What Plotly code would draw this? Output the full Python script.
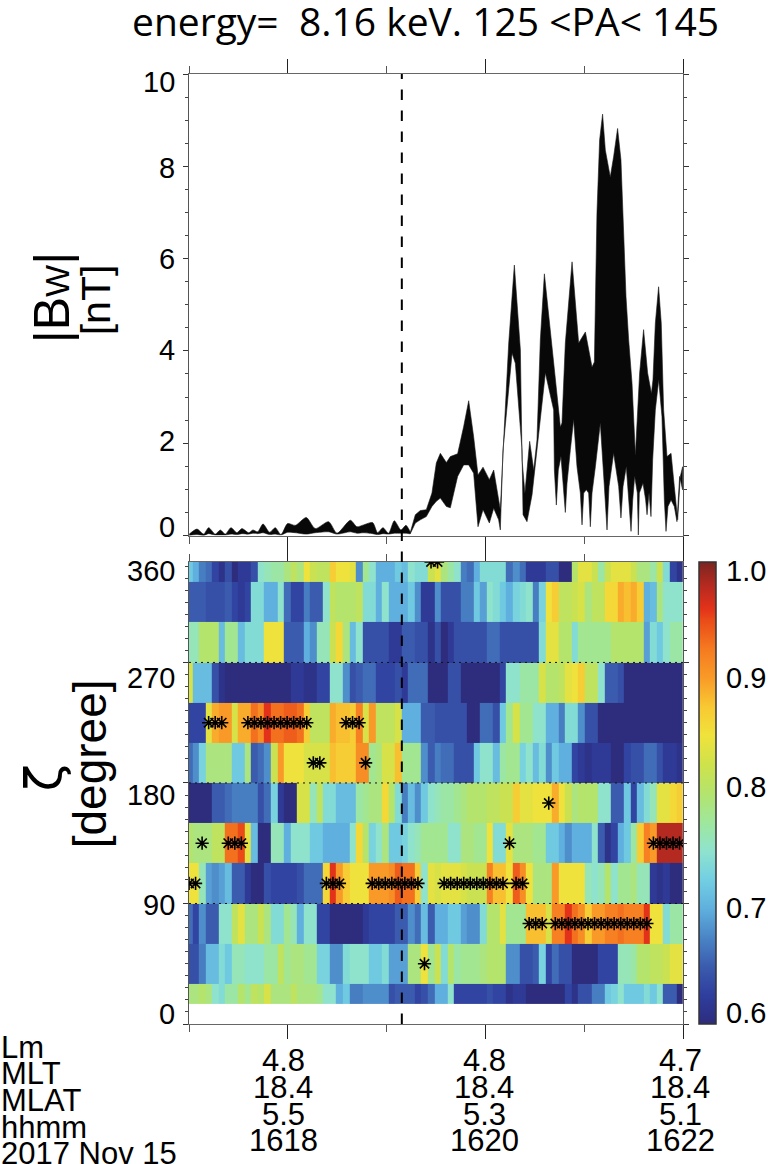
import plotly.graph_objects as go

# Wave amplitude envelope, quiet interval: time, |Bw| upper and lower edges
quiet_upper_t = [1617.003,1617.081,1617.148,1617.199,1617.266,1617.317,1617.367,1617.425,1617.485,1617.536,1617.604,1617.647,1617.695,1617.749,1617.816,1617.873,1617.931,1617.998,1618.076,1618.187,1618.278,1618.413,1618.498,1618.633,1618.700,1618.767,1618.859,1618.909,1618.963,1619.020,1619.078,1619.145,1619.196,1619.240]
quiet_upper_b = [0.03,0.14,0.03,0.17,0.03,0.12,0.03,0.17,0.06,0.15,0.06,0.12,0.08,0.25,0.07,0.17,0.02,0.26,0.22,0.39,0.15,0.30,0.05,0.33,0.19,0.23,0.28,0.06,0.17,0.05,0.32,0.12,0.22,0.07]
quiet_lower_t = [1617.003,1617.081,1617.148,1617.199,1617.266,1617.317,1617.367,1617.425,1617.485,1617.536,1617.604,1617.647,1617.695,1617.749,1617.816,1617.873,1617.931,1617.998,1618.076,1618.187,1618.278,1618.413,1618.498,1618.633,1618.700,1618.767,1618.859,1618.909,1618.963,1619.020,1619.078,1619.145,1619.196,1619.240]
quiet_lower_b = [0.00,0.02,0.00,0.04,0.01,0.01,0.01,0.03,0.02,0.04,0.03,0.05,0.04,0.06,0.02,0.03,0.01,0.07,0.06,0.03,0.06,0.08,0.03,0.08,0.05,0.06,0.04,0.02,0.04,0.03,0.05,0.05,0.05,0.04]

# Wave amplitude envelope, active interval
active_upper_t = [1619.240,1619.291,1619.341,1619.402,1619.459,1619.503,1619.544,1619.605,1619.645,1619.719,1619.780,1619.831,1619.881,1619.925,1619.976,1620.040,1620.084,1620.134,1620.151,1620.185,1620.236,1620.293,1620.354,1620.371,1620.400,1620.448,1620.489,1620.522,1620.556,1620.597,1620.674,1620.759,1620.775,1620.809,1620.877,1620.944,1621.012,1621.079,1621.103,1621.129,1621.156,1621.186,1621.214,1621.264,1621.298,1621.338,1621.372,1621.399,1621.423,1621.450,1621.484,1621.518,1621.561,1621.601,1621.642,1621.680,1621.696,1621.720,1621.753,1621.780,1621.804,1621.838,1621.879,1621.912,1621.946,1621.973,1621.996]
active_upper_b = [0.07,0.45,0.54,0.56,0.92,1.57,1.78,1.58,1.71,1.77,2.36,2.92,2.14,1.31,1.48,1.21,1.42,0.70,0.56,2.07,4.17,5.86,4.02,1.64,0.92,2.04,1.42,2.07,4.24,5.67,4.02,2.35,2.44,4.17,5.93,4.17,4.41,3.65,3.76,6.98,8.57,9.13,8.35,7.77,8.21,8.82,8.14,6.55,5.18,4.24,3.30,1.75,3.52,4.46,3.52,3.08,3.37,4.60,5.39,4.60,2.72,1.71,1.78,1.06,0.34,1.28,1.49]
active_lower_t = [1619.240,1619.291,1619.341,1619.402,1619.459,1619.503,1619.544,1619.605,1619.645,1619.719,1619.780,1619.831,1619.881,1619.925,1619.976,1620.040,1620.084,1620.134,1620.151,1620.178,1620.270,1620.303,1620.371,1620.381,1620.421,1620.472,1620.505,1620.520,1620.607,1620.691,1620.698,1620.718,1620.738,1620.765,1620.792,1620.809,1620.826,1620.860,1620.893,1620.927,1620.961,1620.978,1620.995,1621.022,1621.045,1621.062,1621.079,1621.113,1621.163,1621.204,1621.231,1621.251,1621.298,1621.349,1621.372,1621.393,1621.426,1621.454,1621.474,1621.491,1621.511,1621.538,1621.548,1621.558,1621.595,1621.622,1621.636,1621.656,1621.676,1621.693,1621.720,1621.754,1621.787,1621.811,1621.828,1621.848,1621.879,1621.912,1621.939,1621.966,1621.996]
active_lower_b = [0.04,0.27,0.34,0.41,0.63,0.74,0.81,0.63,0.60,1.28,1.53,1.53,1.35,0.19,0.56,0.27,0.59,0.34,0.12,1.85,3.95,3.73,1.85,0.45,0.30,0.88,1.42,1.85,3.52,2.72,1.42,0.66,1.42,1.71,1.06,0.50,1.13,1.86,2.51,1.49,0.92,0.23,0.92,0.99,0.92,0.19,0.92,1.49,2.43,1.06,0.12,1.06,1.78,1.06,0.38,1.06,1.49,0.77,0.09,0.77,1.28,0.92,0.01,0.92,1.13,0.77,0.45,0.92,0.41,1.64,2.72,3.37,2.58,0.77,0.09,0.63,0.77,0.63,0.30,1.28,0.99]

# Colour panel: one row per zeta bin, listed from the top bin downwards
zeta_edges = [15,30,60,90,120,150,180,210,240,270,300,330,360]
row_330 = [.72,.70,.67,.66,.63,.61,.64,.60,.62,.62,.64,.75,.76,.77,.77,.79,.81,.79,.85,.82,.81,.81,.87,.85,.85,.84,.68,.78,.75,.70,.70,.70,.72,.71,.75,.74,.74,.82,.84,.79,.77,.75,.67,.66,.70,.74,.74,.74,.74,.66,.68,.66,.62,.62,.62,.64,.64,.60,.60,.80,.84,.84,.82,.77,.82,.84,.84,.84,.82,.79,.79,.77,.82,.74,.63,.61]
row_300 = [.65,.65,.65,.64,.64,.64,.65,.63,.62,.63,.74,.74,.70,.70,.75,.66,.63,.63,.67,.65,.65,.75,.81,.80,.80,.80,.81,.74,.74,.70,.75,.70,.70,.70,.72,.68,.62,.62,.68,.64,.64,.64,.67,.67,.72,.69,.75,.74,.72,.70,.73,.74,.75,.67,.73,.85,.87,.81,.81,.82,.83,.79,.81,.81,.86,.86,.89,.88,.89,.87,.70,.71,.79,.75,.75,.75]
row_270 = [.76,.76,.80,.80,.80,.71,.78,.78,.71,.74,.74,.74,.85,.85,.85,.65,.65,.65,.70,.68,.76,.76,.82,.86,.79,.71,.75,.64,.64,.64,.64,.62,.62,.65,.65,.64,.64,.61,.64,.60,.62,.64,.64,.64,.64,.64,.66,.66,.64,.64,.64,.64,.64,.64,.74,.84,.84,.80,.80,.74,.78,.78,.78,.78,.78,.80,.80,.80,.80,.80,.69,.74,.72,.75,.77,.77]
row_240 = [.83,.71,.71,.71,.64,.61,.60,.60,.60,.60,.60,.60,.60,.60,.60,.60,.62,.62,.61,.61,.63,.63,.75,.75,.68,.64,.65,.66,.66,.63,.63,.63,.64,.62,.66,.66,.66,.60,.60,.60,.64,.64,.60,.60,.60,.60,.60,.60,.63,.75,.75,.77,.77,.77,.83,.80,.80,.81,.84,.85,.87,.81,.81,.75,.65,.65,.64,.60,.60,.60,.60,.60,.60,.60,.60,.60]
row_210 = [.63,.63,.63,.84,.89,.90,.90,.83,.89,.89,.93,.91,.96,.93,.93,.94,.94,.93,.87,.81,.81,.81,.89,.88,.88,.87,.92,.83,.90,.81,.81,.81,.83,.70,.70,.70,.65,.65,.64,.64,.64,.64,.64,.60,.60,.66,.66,.64,.72,.78,.83,.78,.78,.75,.75,.70,.70,.67,.74,.74,.68,.64,.64,.60,.60,.60,.60,.60,.60,.60,.60,.60,.60,.60,.60,.60]
row_180 = [.66,.68,.73,.79,.79,.79,.79,.72,.72,.79,.65,.66,.68,.82,.90,.85,.85,.85,.83,.83,.83,.83,.88,.87,.87,.87,.91,.91,.78,.79,.83,.83,.88,.78,.78,.78,.68,.65,.67,.66,.66,.64,.64,.64,.72,.75,.75,.71,.77,.78,.78,.73,.75,.71,.74,.68,.72,.70,.70,.63,.62,.61,.62,.62,.62,.60,.60,.63,.64,.64,.66,.66,.64,.62,.62,.61]
row_150 = [.60,.60,.60,.60,.65,.65,.66,.67,.67,.67,.67,.64,.66,.73,.62,.60,.60,.83,.83,.76,.81,.74,.74,.71,.71,.71,.77,.78,.79,.79,.86,.80,.74,.67,.71,.68,.72,.75,.76,.77,.77,.78,.79,.80,.80,.80,.81,.81,.82,.82,.87,.84,.84,.85,.85,.85,.89,.85,.82,.79,.80,.80,.80,.75,.75,.65,.65,.72,.63,.71,.74,.76,.84,.84,.86,.87]
row_120 = [.80,.79,.79,.79,.81,.81,.93,.93,.95,.84,.71,.60,.60,.76,.76,.70,.75,.75,.75,.72,.72,.70,.70,.70,.70,.75,.86,.80,.73,.75,.79,.72,.72,.73,.75,.76,.78,.78,.78,.78,.75,.75,.79,.79,.78,.78,.85,.74,.74,.84,.79,.79,.79,.78,.78,.72,.72,.70,.68,.70,.70,.70,.75,.65,.61,.63,.70,.72,.77,.87,.92,.90,.98,.98,.98,.98]
row_90 = [.85,.85,.76,.69,.68,.69,.71,.65,.65,.62,.60,.60,.64,.63,.63,.63,.63,.64,.66,.66,.66,.86,.96,.90,.87,.85,.85,.85,.90,.90,.90,.91,.94,.93,.93,.87,.75,.84,.83,.84,.84,.84,.83,.82,.82,.82,.92,.88,.88,.85,.94,.91,.85,.79,.79,.79,.90,.85,.85,.85,.85,.76,.75,.76,.80,.75,.78,.78,.79,.76,.76,.62,.61,.62,.60,.60]
row_60 = [.66,.63,.68,.65,.65,.75,.75,.81,.84,.79,.79,.82,.79,.74,.74,.78,.76,.70,.75,.75,.63,.63,.60,.60,.60,.60,.60,.62,.63,.63,.63,.63,.65,.65,.68,.66,.71,.65,.70,.70,.72,.72,.69,.68,.68,.74,.80,.80,.84,.78,.78,.78,.88,.88,.88,.83,.92,.92,.96,.93,.91,.87,.90,.90,.92,.92,.93,.92,.92,.92,.96,.85,.85,.74,.77,.77]
row_30 = [.64,.64,.67,.71,.71,.74,.72,.76,.76,.75,.75,.75,.77,.77,.81,.78,.79,.79,.78,.78,.73,.73,.68,.68,.74,.75,.75,.75,.72,.72,.74,.69,.69,.69,.79,.79,.85,.78,.82,.74,.80,.77,.78,.78,.78,.79,.80,.80,.80,.68,.68,.64,.64,.65,.73,.63,.66,.64,.64,.60,.60,.60,.60,.63,.63,.63,.76,.76,.77,.80,.80,.81,.81,.82,.84,.84]
row_15 = [.79,.79,.80,.79,.75,.74,.77,.77,.80,.78,.81,.80,.83,.79,.79,.79,.81,.79,.79,.79,.78,.75,.75,.70,.72,.67,.67,.68,.68,.68,.68,.64,.65,.65,.65,.63,.64,.66,.70,.70,.75,.63,.63,.63,.63,.63,.64,.63,.63,.61,.62,.62,.60,.60,.60,.60,.60,.60,.63,.61,.64,.64,.67,.67,.72,.73,.75,.72,.72,.72,.74,.72,.75,.65,.65,.60]
rows = [row_15,row_30,row_60,row_90,row_120,row_150,row_180,row_210,row_240,row_270,row_300,row_330]
assert all(len(r) == 76 for r in rows)

# Black asterisks: column index in the colour panel, per zeta bin centre
stars = {
    345: [37,38],
    225: [3,4,5,9,10,11,12,13,14,15,16,17,18,24,25,26],
    195: [19,20,27],
    165: [55],
    135: [2,6,7,8,49,71,72,73,74,75],
    105: [0,1,21,22,23,28,29,30,31,32,33,34,35,39,40,41,42,43,44,45,46,47,48,50,51],
    75: [52,53,54,56,57,58,59,60,61,62,63,64,65,66,67,68,69,70],
    45: [36],
}
col_start = 1617.0003
col_step = 0.0662

row_names = ["Lm","MLT","MLAT","hhmm","2017 Nov 15"]
lm = ["4.8","4.8","4.7"]
mlt = ["18.4","18.4","18.4"]
mlat = ["5.5","5.3","5.1"]
hhmm = ["1618","1620","1622"]
event_time = 1619.154

FONT = "Liberation Sans"
scale = [[0,"#2d2c7d"],[.0625,"#2f3e9e"],[.125,"#3b5cae"],[.1875,"#4a85c6"],[.25,"#5fb0de"],[.3125,"#72cfe2"],[.375,"#8fe3cd"],[.4375,"#9fe79b"],[.5,"#b4e46c"],[.5625,"#cfe24a"],[.625,"#f0e23c"],[.6875,"#f8c832"],[.75,"#f99a28"],[.8125,"#f57a20"],[.875,"#ea4a18"],[.9,"#e2321a"],[.95,"#b42a20"],[1,"#7a2520"]]

fig = go.Figure()
fig.add_trace(go.Scatter(x=quiet_upper_t+quiet_lower_t[::-1], y=quiet_upper_b+quiet_lower_b[::-1], mode="lines", fill="toself",
                         fillcolor="#080808", line=dict(color="#1a1a1a", width=0.6, shape="spline", smoothing=0.7),
                         xaxis="x", yaxis="y", showlegend=False, hoverinfo="skip"))
fig.add_trace(go.Scatter(x=active_upper_t+active_lower_t[::-1], y=active_upper_b+active_lower_b[::-1], mode="lines", fill="toself",
                         fillcolor="#080808", line=dict(color="#1a1a1a", width=0.6),
                         xaxis="x", yaxis="y", showlegend=False, hoverinfo="skip"))
fig.add_trace(go.Heatmap(z=rows, x0=col_start, dx=col_step, y=zeta_edges, zmin=.6, zmax=1, colorscale=scale,
                         xaxis="x2", yaxis="y2", showlegend=False,
                         colorbar=dict(thicknessmode="pixels", thickness=17, lenmode="fraction", len=462/950,
                                       x=(698.5-188.7)/494, xanchor="left", y=0, yanchor="bottom", xpad=0, ypad=0,
                                       outlinecolor="#333333", outlinewidth=1.5, showticklabels=False, ticks="")))
sx, sy = [], []
for z, cols in stars.items():
    for c in cols:
        sx.append(col_start + col_step*c)
        sy.append(z)
fig.add_trace(go.Scatter(x=sx, y=sy, mode="markers", xaxis="x2", yaxis="y2", showlegend=False,
                         marker=dict(symbol="asterisk-open", size=11, color="black", line=dict(color="black", width=1.6))))

def xa(**kw):
    return dict(range=[1617,1622], tick0=1618, dtick=2, ticks="outside", ticklen=14, tickwidth=1, tickcolor="#222",
                minor=dict(tick0=1617, dtick=1, ticks="outside", ticklen=7, tickwidth=1, tickcolor="#555"),
                showticklabels=False, showline=True, linecolor="#666", linewidth=1.2, mirror="ticks",
                showgrid=False, zeroline=False, **kw)
def ya(**kw):
    return dict(ticks="outside", ticklen=5, tickwidth=1, tickcolor="#333", showticklabels=False, showline=True,
                linecolor="#555", linewidth=1.2, mirror="ticks", showgrid=False, zeroline=False, **kw)

H = 950
bottom_dom = [0, 462/H]
top_dom = [(1024-535.5)/H, 1]
fig.update_layout(
    width=768, height=1164, autosize=False, paper_bgcolor="white", plot_bgcolor="white",
    margin=dict(l=188.7, r=768-682.7, t=74, b=140, pad=0), showlegend=False,
    xaxis=xa(domain=[0,1], anchor="y"),
    yaxis=ya(domain=top_dom, range=[0,10], tick0=0, dtick=2, minor=dict(tick0=0, dtick=.5, ticks="outside", ticklen=3, tickcolor="#444"), anchor="x"),
    xaxis2=xa(domain=[0,1], anchor="y2"),
    yaxis2=ya(domain=bottom_dom, range=[0,345], tick0=0, dtick=90, minor=dict(tick0=0, dtick=9, ticks="outside", ticklen=3, tickcolor="#444"), anchor="x2"),
    font=dict(family=FONT, color="black"),
)

fig.add_shape(type="line", xref="x", yref="paper", x0=event_time, x1=event_time, y0=0, y1=1,
              line=dict(color="black", width=2, dash="10.5px,10.5px"), layer="above")
for z in [90,180,270]:
    fig.add_shape(type="line", xref="x2 domain", yref="y2", x0=0, x1=1, y0=z, y1=z,
                  line=dict(color="#111", width=1, dash="2px,4px"), layer="above")

def note(text, x, y, size, anchor="center", angle=0, family=FONT):
    fig.add_annotation(text=text, xref="paper", yref="paper", x=(x-188.7)/494, y=(1024-y)/H, showarrow=False,
                       xanchor=anchor, yanchor="middle", textangle=angle, borderpad=0,
                       font=dict(size=size, family=family, color="black"))

note("energy=  8.16 keV. 125 &lt;PA&lt; 145", 425, 20, 39, family="Open Sans")
for t, y in zip(["10","8","6","4","2","0"], [82,168,259,350,441,527]):
    note(t, 176, y, 29, "right")
for t, y in zip(["360","270","180","90","0"], [571,678,795,905,1014]):
    note(t, 176, y, 29, "right")
for t, y in zip(["1.0","0.9","0.8","0.7","0.6"], [571,678,787,908,1013]):
    note(t, 725, y, 29, "left")
note('|B<span style="font-size:34px">W</span>|', 52, 298, 50, angle=-90)
note("[nT]", 96, 300, 41, angle=-90)
note("ζ", 44, 778, 50, angle=-90, family="DejaVu Sans")
note("[degree]", 90, 764, 46, angle=-90)
for t, y in zip(row_names, [1047,1073,1100,1127,1153]):
    note(t, 0, y, 31, "left")
for col, y in zip([lm,mlt,mlat,hhmm], [1060,1087,1114,1140]):
    for t, x in zip(col, [283,484,680]):
        note(t, x, y, 31)

fig.write_html("out.html", config=dict(displayModeBar=False), post_script="document.body.style.margin='0';")
